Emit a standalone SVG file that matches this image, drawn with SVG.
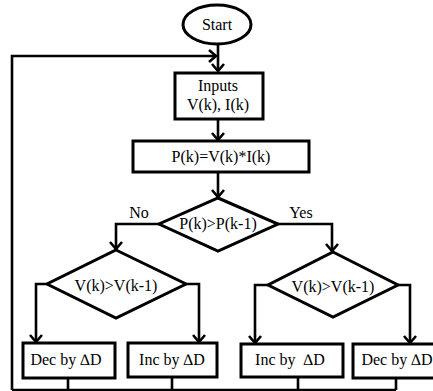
<svg xmlns="http://www.w3.org/2000/svg" width="433" height="391" viewBox="0 0 433 391">
<defs>
<style>
.s{fill:#fff;stroke:#000;stroke-width:3}
.c{fill:none;stroke:#000;stroke-width:2.6}
text{font-family:'Liberation Serif','Times New Roman','DejaVu Serif',serif;font-size:16px;fill:#000;text-anchor:middle}
</style>
<marker id="a" markerUnits="userSpaceOnUse" markerWidth="16" markerHeight="16" refX="8" refY="8" orient="auto" overflow="visible">
<path d="M1,2 L8,8 L1,14" fill="none" stroke="#000" stroke-width="2.6"/>
</marker>
</defs>
<rect width="433" height="391" fill="#fff"/>
<g id="connectors">
<path class="c" d="M218,44 V71" marker-end="url(#a)"/>
<path class="c" d="M12,390 V56 H216" marker-end="url(#a)"/>
<path class="c" d="M218,119 V140" marker-end="url(#a)"/>
<path class="c" d="M218,172 V197" marker-end="url(#a)"/>
<path class="c" d="M159,224 H116 V249" marker-end="url(#a)"/>
<path class="c" d="M278,224 H332 V251" marker-end="url(#a)"/>
<path class="c" d="M47,284 H36 V342" marker-end="url(#a)"/>
<path class="c" d="M186,284 H199 V342" marker-end="url(#a)"/>
<path class="c" d="M268,285 H255 V343" marker-end="url(#a)"/>
<path class="c" d="M398,285 H410 V343" marker-end="url(#a)"/>
<path class="c" d="M68,378 V390 M172,377 V390 M298,377 V390 M396,378 V390 M12,390 H396"/>
</g>
<g id="start">
<ellipse class="s" cx="217" cy="24.5" rx="34" ry="19.5"/>
<text x="217" y="30" font-family="Liberation Serif, serif">Start</text>
</g>
<g id="inputs">
<rect class="s" x="175" y="73" width="88" height="46"/>
<text x="218" y="91">Inputs</text>
<text x="218" y="110">V(k), I(k)</text>
</g>
<g id="power">
<rect class="s" x="133" y="141" width="176" height="31"/>
<text x="221" y="162">P(k)=V(k)*I(k)</text>
</g>
<g id="dec1">
<path class="s" d="M218,198 L278,224 L218,251 L159,224 Z"/>
<text x="218" y="229">P(k)&gt;P(k-1)</text>
</g>
<text x="139" y="218">No</text>
<text x="301" y="218">Yes</text>
<g id="dec2">
<path class="s" d="M116,250 L186,284 L116,318 L47,284 Z"/>
<text x="116" y="291">V(k)&gt;V(k-1)</text>
</g>
<g id="dec3">
<path class="s" d="M333,252 L398,285 L333,317 L268,285 Z"/>
<text x="333" y="292">V(k)&gt;V(k-1)</text>
</g>
<g id="box1">
<rect class="s" x="23" y="343" width="92" height="35"/>
<text x="66" y="365">Dec by ∆D</text>
</g>
<g id="box2">
<rect class="s" x="128" y="343" width="89" height="34"/>
<text x="172" y="365">Inc by ∆D</text>
</g>
<g id="box3">
<rect class="s" x="241" y="344" width="102" height="33"/>
<text x="290" y="365" xml:space="preserve">Inc by  ∆D</text>
</g>
<g id="box4">
<rect class="s" x="353" y="344" width="84" height="34"/>
<text x="397" y="365">Dec by ∆D</text>
</g>
</svg>
